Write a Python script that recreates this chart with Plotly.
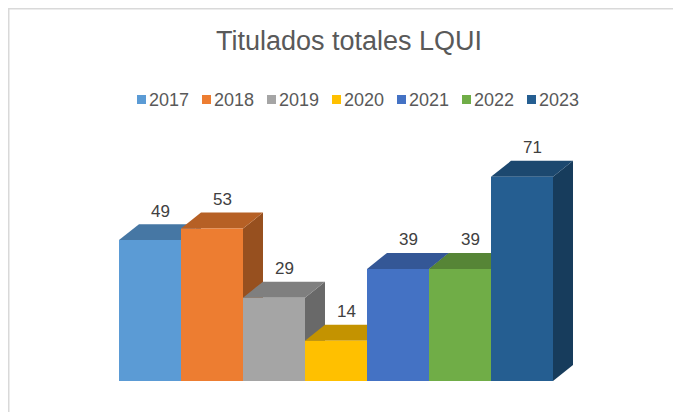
"""
Gráfico de columnas 3D con los titulados totales de LQUI por año (2017-2023).
"""

import plotly.graph_objects as go

# Datos del gráfico.
anios = ["2017", "2018", "2019", "2020", "2021", "2022", "2023"]
titulados = [49, 53, 29, 14, 39, 39, 71]
colores = ["#5B9BD5", "#ED7D31", "#A5A5A5", "#FFC000", "#4472C4", "#70AD47", "#255E91"]

# Geometría en píxeles de la figura (la página añade 8 px de margen).
ANCHO, ALTO = 681, 412
BASE_PX = 373  # línea base de las columnas
IZQ_PX = 111  # borde izquierdo de la primera columna
COL_PX = 62  # ancho de cada columna
PX_UNIDAD = 2.875  # píxeles por titulado
PROF_X_PX, PROF_Y_PX = 20, 16  # profundidad del efecto 3D


def oscurecer(hex_color, factor):
    """Devuelve el color oscurecido por el factor dado."""
    r, g, b = (int(hex_color[i : i + 2], 16) for i in (1, 3, 5))
    return "#{:02X}{:02X}{:02X}".format(int(r * factor), int(g * factor), int(b * factor))


def paper_y(px):
    """Convierte una altura en píxeles (desde arriba) a coordenadas paper."""
    return (BASE_PX - px) / BASE_PX


def main():
    dx = PROF_X_PX / COL_PX
    dy = PROF_Y_PX / PX_UNIDAD

    fig = go.Figure()

    # Dibujamos cada columna de izquierda a derecha: lado, tapa y frente.
    for i, (valor, color) in enumerate(zip(titulados, colores)):
        x0, x1 = i - 0.5, i + 0.5
        caras = [
            (
                [x1, x1 + dx, x1 + dx, x1, x1],
                [0, dy, valor + dy, valor, 0],
                oscurecer(color, 0.64),
            ),
            (
                [x0, x1, x1 + dx, x0 + dx, x0],
                [valor, valor, valor + dy, valor + dy, valor],
                oscurecer(color, 0.77),
            ),
            (
                [x0, x1, x1, x0, x0],
                [0, 0, valor, valor, 0],
                color,
            ),
        ]
        for xs, ys, c in caras:
            fig.add_trace(
                go.Scatter(
                    x=xs,
                    y=ys,
                    fill="toself",
                    fillcolor=c,
                    mode="lines",
                    line_width=0,
                    hoverinfo="skip",
                    showlegend=False,
                )
            )

    anotaciones = []

    # Etiquetas de valor sobre cada columna.
    for i, valor in enumerate(titulados):
        anotaciones.append(
            dict(
                x=i + dx * 0.5,
                y=valor + dy,
                xref="x",
                yref="y",
                text=str(valor),
                showarrow=False,
                yanchor="middle",
                yshift=13,
                font=dict(size=17, color="#404040"),
            )
        )

    # Leyenda manual: cuadro de color y año.
    figuras = []
    for j, (anio, color) in enumerate(zip(anios, colores)):
        px = 129 + 65 * j
        figuras.append(
            dict(
                type="rect",
                xref="paper",
                yref="paper",
                x0=px / ANCHO,
                x1=(px + 9) / ANCHO,
                y0=paper_y(96),
                y1=paper_y(87),
                fillcolor=color,
                line_width=0,
            )
        )
        anotaciones.append(
            dict(
                x=(px + 10) / ANCHO,
                y=paper_y(91.5),
                xref="paper",
                yref="paper",
                xanchor="left",
                yanchor="middle",
                text=anio,
                showarrow=False,
                font=dict(size=18, color="#595959"),
            )
        )

    # Marco del área del gráfico.
    figuras.append(
        dict(
            type="rect",
            xref="paper",
            yref="paper",
            x0=0.5 / ANCHO,
            x1=1.05,
            y0=paper_y(440),
            y1=paper_y(0.5),
            line=dict(color="#D9D9D9", width=2),
            layer="below",
        )
    )

    fig.update_xaxes(
        range=[-IZQ_PX / COL_PX - 0.5, (ANCHO - IZQ_PX) / COL_PX - 0.5],
        visible=False,
        fixedrange=True,
    )
    fig.update_yaxes(
        range=[0, BASE_PX / PX_UNIDAD],
        visible=False,
        fixedrange=True,
    )

    fig.update_layout(
        width=ANCHO,
        height=ALTO,
        margin=dict(l=0, r=0, t=0, b=ALTO - BASE_PX),
        paper_bgcolor="#FFFFFF",
        plot_bgcolor="rgba(0,0,0,0)",
        font_family="Liberation Sans, Arial, sans-serif",
        showlegend=False,
        title=dict(
            text="Titulados totales LQUI",
            x=341 / ANCHO,
            xanchor="center",
            y=1 - 33 / ALTO,
            yanchor="middle",
            font=dict(size=27, color="#595959"),
        ),
        annotations=anotaciones,
        shapes=figuras,
    )

    fig.write_html("out.html")


if __name__ == "__main__":
    main()
